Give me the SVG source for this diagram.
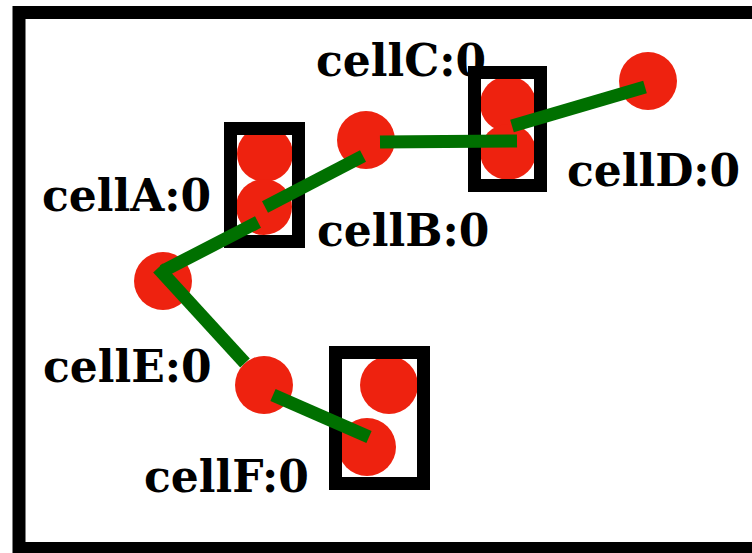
<svg xmlns="http://www.w3.org/2000/svg" width="752" height="553" viewBox="0 0 752 553">
  <style>
    .frame { fill: none; stroke: #000; stroke-width: 13; }
    .box { fill: none; stroke: #000; stroke-width: 13; }
    .cell { fill: #ee220f; }
    .wire { fill: none; stroke: #007000; stroke-width: 13; stroke-linecap: butt; }
    .lbl { font-family: "DejaVu Serif", "Liberation Serif", serif; font-weight: bold; font-size: 44px; fill: #000; }
  </style>
  <rect width="752" height="553" fill="#fff"/>
  <rect class="frame" x="19" y="12.5" width="760" height="536"/>

  <!-- standalone cells -->
  <g id="nodeE"><circle class="cell" cx="163" cy="281" r="29"/></g>
  <g id="nodeG"><circle class="cell" cx="264" cy="385" r="29"/></g>
  <g id="nodeB"><circle class="cell" cx="366" cy="140" r="29"/></g>
  <g id="nodeD"><circle class="cell" cx="648" cy="81" r="29"/></g>

  <!-- boxed cell pairs -->
  <g id="boxA">
    <circle class="cell" cx="265" cy="154" r="28"/>
    <circle class="cell" cx="264" cy="207" r="28"/>
    <rect class="box" x="230.5" y="128.5" width="68" height="113"/>
  </g>
  <g id="boxC">
    <circle class="cell" cx="508" cy="104" r="28"/>
    <circle class="cell" cx="508" cy="152" r="28"/>
    <rect class="box" x="474.5" y="72.5" width="66" height="113"/>
  </g>
  <g id="boxF">
    <circle class="cell" cx="389" cy="385" r="29"/>
    <circle class="cell" cx="367" cy="447" r="29"/>
    <rect class="box" x="335.5" y="352.5" width="88" height="131"/>
  </g>

  <!-- connectors -->
  <g id="connectors">
    <line class="wire" x1="163" y1="271" x2="258" y2="222"/>
    <line class="wire" x1="265" y1="207" x2="363" y2="156"/>
    <line class="wire" x1="380" y1="142" x2="517" y2="141"/>
    <line class="wire" x1="512" y1="126" x2="645" y2="87"/>
    <line class="wire" x1="158" y1="268" x2="245" y2="363"/>
    <line class="wire" x1="273" y1="395" x2="369" y2="437"/>
  </g>

  <!-- labels -->
  <g id="labels">
    <text class="lbl" x="316" y="76">cellC:0</text>
    <text class="lbl" x="42" y="211">cellA:0</text>
    <text class="lbl" x="317" y="246">cellB:0</text>
    <text class="lbl" x="567" y="186">cellD:0</text>
    <text class="lbl" x="43" y="382">cellE:0</text>
    <text class="lbl" x="144" y="492">cellF:0</text>
  </g>
</svg>
